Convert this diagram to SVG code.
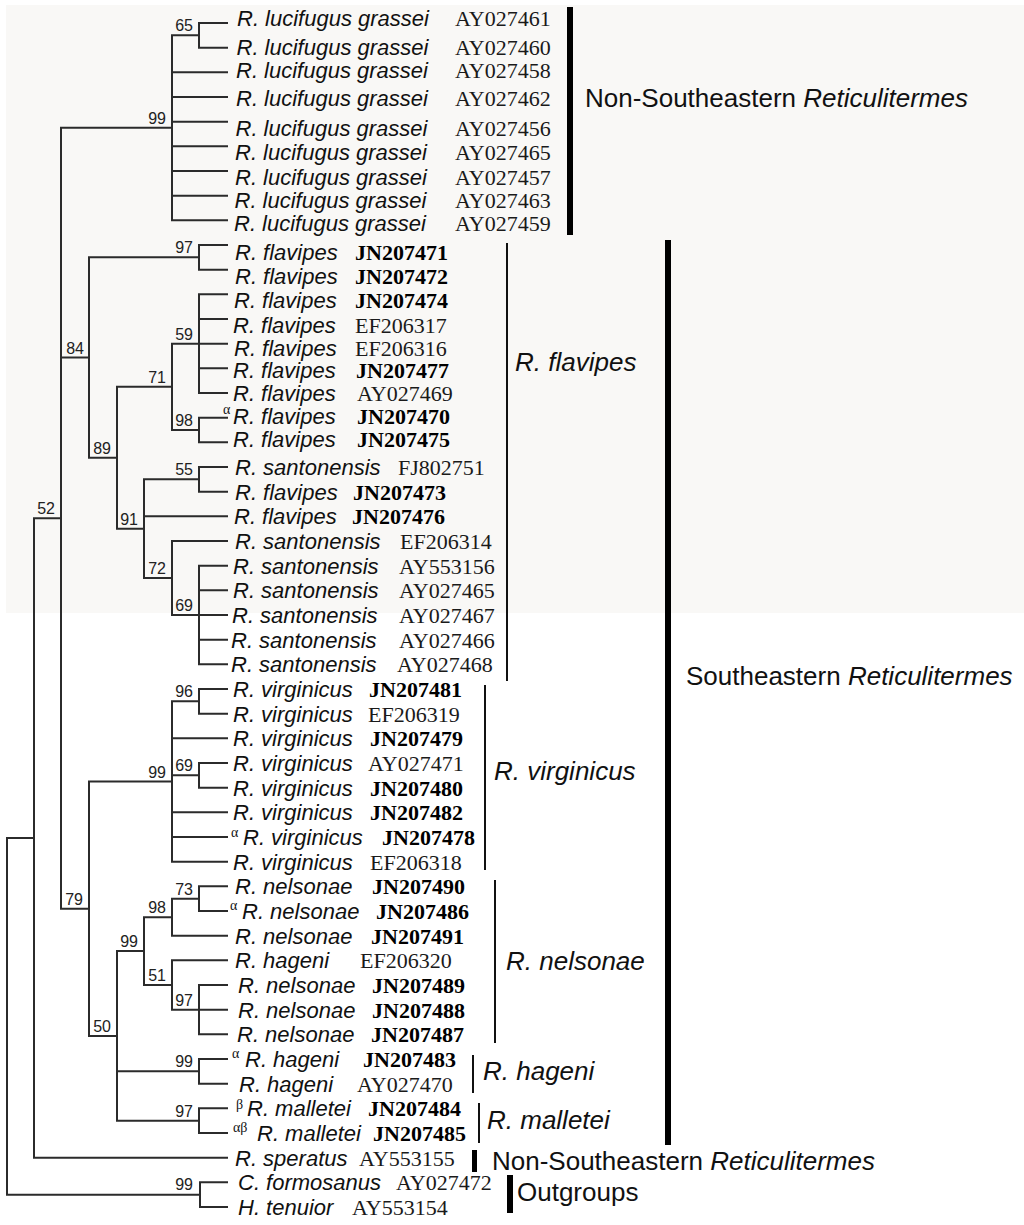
<svg xmlns="http://www.w3.org/2000/svg" width="1024" height="1225" viewBox="0 0 1024 1225">
<style>
.br{stroke:#2b2b2b;stroke-width:2;fill:none;stroke-linecap:square}
.thin{stroke:#111;stroke-width:2;fill:none}
.bar{fill:#000}
.nm{font-family:"Liberation Sans",Arial,sans-serif;font-style:italic;font-size:22px;fill:#111}
.acc{font-family:"Liberation Serif","Times New Roman",serif;font-size:22px;fill:#1a1a1a}
.b{font-weight:bold;fill:#000}
.sup{font-family:"Liberation Serif","Times New Roman",serif;font-size:14px;fill:#111}
.bs{font-family:"Liberation Sans",Arial,sans-serif;font-size:16px;text-anchor:end;fill:#222}
.grp{font-family:"Liberation Sans",Arial,sans-serif;font-size:26px;fill:#111}
.it{font-style:italic}
</style>
<rect x="0" y="0" width="1024" height="1225" fill="#ffffff"/>
<rect x="6" y="5" width="1018" height="608" fill="#f9f8f6"/>

<g id="connectors">
<path class="br" d="M7,837.96V1194.67M7,837.96H34M7,1194.67H200
M200,1182.33V1207M200,1182.33H227M200,1207H227
M34,518.26V1157.67M34,518.26H61M34,1157.67H227
M61,127.83V908.69M61,127.83H172M61,357.54H89M61,908.69H89
M172,35.33V220.33M172,35.33H199M172,72.33H227M172,97H227M172,121.67H227M172,146.33H227M172,171H227M172,195.67H227M172,220.33H227
M199,23V47.67M199,23H227M199,47.67H227
M89,257.33V457.75M89,257.33H199M89,457.75H117
M199,245V269.67M199,245H227M199,269.67H227
M117,386.83V528.67M117,386.83H172M117,528.67H144
M172,343.67V430M172,343.67H199M172,430H199
M199,294.33V393M199,294.33H227M199,319H227M199,343.67H227M199,368.33H227M199,393H227
M199,417.67V442.33M199,417.67H227M199,442.33H227
M144,479.33V578M144,479.33H199M144,516.33H227M144,578H172
M199,467V491.67M199,467H227M199,491.67H227
M172,541V615M172,541H227M172,615H199
M199,565.67V664.33M199,565.67H227M199,590.33H227M199,615H227M199,639.67H227M199,664.33H227
M89,781.5V1035.88M89,781.5H172M89,1035.88H117
M172,701.33V861.67M172,701.33H199M172,738.33H227M172,775.33H199M172,812.33H227M172,837H227M172,861.67H227
M199,689V713.67M199,689H227M199,713.67H227
M199,763V787.67M199,763H227M199,787.67H227
M117,951.08V1120.67M117,951.08H144M117,1071.33H199M117,1120.67H199
M144,917.17V985M144,917.17H172M144,985H172
M172,898.67V935.67M172,898.67H199M172,935.67H227
M199,886.33V911M199,886.33H227M199,911H227
M172,960.33V1009.67M172,960.33H227M172,1009.67H199
M199,985V1034.33M199,985H227M199,1009.67H227M199,1034.33H227
M199,1059V1083.67M199,1059H227M199,1083.67H227
M199,1108.33V1133M199,1108.33H227M199,1133H227"/>
</g>

<g id="bootstrap">
<text class="bs" x="193" y="31.3">65</text>
<text class="bs" x="166" y="123.8">99</text>
<text class="bs" x="55" y="514.3">52</text>
<text class="bs" x="84" y="353.5">84</text>
<text class="bs" x="193" y="253.3">97</text>
<text class="bs" x="111" y="453.7">89</text>
<text class="bs" x="166" y="382.8">71</text>
<text class="bs" x="193" y="339.7">59</text>
<text class="bs" x="193" y="426">98</text>
<text class="bs" x="138" y="524.7">91</text>
<text class="bs" x="193" y="475.3">55</text>
<text class="bs" x="166" y="574">72</text>
<text class="bs" x="193" y="611">69</text>
<text class="bs" x="83" y="904.7">79</text>
<text class="bs" x="166" y="777.5">99</text>
<text class="bs" x="193" y="697.3">96</text>
<text class="bs" x="193" y="771.3">69</text>
<text class="bs" x="111" y="1031.9">50</text>
<text class="bs" x="138" y="947.1">99</text>
<text class="bs" x="166" y="913.2">98</text>
<text class="bs" x="193" y="894.7">73</text>
<text class="bs" x="166" y="981">51</text>
<text class="bs" x="193" y="1005.7">97</text>
<text class="bs" x="193" y="1067.3">99</text>
<text class="bs" x="193" y="1116.7">97</text>
<text class="bs" x="193" y="1190">99</text>
</g>

<g id="leaf-01"><text class="nm" x="237" y="26">R. lucifugus grassei</text><text class="acc" x="455" y="26">AY027461</text></g>
<g id="leaf-02"><text class="nm" x="236.5" y="54.7">R. lucifugus grassei</text><text class="acc" x="455" y="54.7">AY027460</text></g>
<g id="leaf-03"><text class="nm" x="236" y="78.3">R. lucifugus grassei</text><text class="acc" x="455" y="78.3">AY027458</text></g>
<g id="leaf-04"><text class="nm" x="236" y="106">R. lucifugus grassei</text><text class="acc" x="455" y="106">AY027462</text></g>
<g id="leaf-05"><text class="nm" x="235.5" y="135.7">R. lucifugus grassei</text><text class="acc" x="455" y="135.7">AY027456</text></g>
<g id="leaf-06"><text class="nm" x="235" y="160.3">R. lucifugus grassei</text><text class="acc" x="455" y="160.3">AY027465</text></g>
<g id="leaf-07"><text class="nm" x="235" y="185">R. lucifugus grassei</text><text class="acc" x="455" y="185">AY027457</text></g>
<g id="leaf-08"><text class="nm" x="234.5" y="207.7">R. lucifugus grassei</text><text class="acc" x="455" y="207.7">AY027463</text></g>
<g id="leaf-09"><text class="nm" x="234" y="231.3">R. lucifugus grassei</text><text class="acc" x="455" y="231.3">AY027459</text></g>

<g id="leaf-10"><text class="nm" x="235" y="260">R. flavipes</text><text class="acc b" x="355" y="260">JN207471</text></g>
<g id="leaf-11"><text class="nm" x="235" y="283.7">R. flavipes</text><text class="acc b" x="355" y="283.7">JN207472</text></g>
<g id="leaf-12"><text class="nm" x="234" y="308.3">R. flavipes</text><text class="acc b" x="355" y="308.3">JN207474</text></g>
<g id="leaf-13"><text class="nm" x="233" y="333">R. flavipes</text><text class="acc" x="355" y="333">EF206317</text></g>
<g id="leaf-14"><text class="nm" x="234" y="355.7">R. flavipes</text><text class="acc" x="355" y="355.7">EF206316</text></g>
<g id="leaf-15"><text class="nm" x="233" y="378.3">R. flavipes</text><text class="acc b" x="356" y="378.3">JN207477</text></g>
<g id="leaf-16"><text class="nm" x="233" y="401">R. flavipes</text><text class="acc" x="357" y="401">AY027469</text></g>
<g id="leaf-17"><text class="sup" x="223" y="413.7">α</text><text class="nm" x="233" y="423.7">R. flavipes</text><text class="acc b" x="357" y="423.7">JN207470</text></g>
<g id="leaf-18"><text class="nm" x="233" y="447.3">R. flavipes</text><text class="acc b" x="357" y="447.3">JN207475</text></g>
<g id="leaf-19"><text class="nm" x="235" y="475">R. santonensis</text><text class="acc" x="398" y="475">FJ802751</text></g>
<g id="leaf-20"><text class="nm" x="235" y="499.7">R. flavipes</text><text class="acc b" x="353" y="499.7">JN207473</text></g>
<g id="leaf-21"><text class="nm" x="234" y="524.3">R. flavipes</text><text class="acc b" x="352" y="524.3">JN207476</text></g>
<g id="leaf-22"><text class="nm" x="235" y="549">R. santonensis</text><text class="acc" x="400" y="549">EF206314</text></g>
<g id="leaf-23"><text class="nm" x="233" y="573.7">R. santonensis</text><text class="acc" x="399" y="573.7">AY553156</text></g>
<g id="leaf-24"><text class="nm" x="233" y="598.3">R. santonensis</text><text class="acc" x="399" y="598.3">AY027465</text></g>
<g id="leaf-25"><text class="nm" x="232" y="623">R. santonensis</text><text class="acc" x="399" y="623">AY027467</text></g>
<g id="leaf-26"><text class="nm" x="231" y="647.7">R. santonensis</text><text class="acc" x="399" y="647.7">AY027466</text></g>
<g id="leaf-27"><text class="nm" x="231" y="672.3">R. santonensis</text><text class="acc" x="397" y="672.3">AY027468</text></g>

<g id="leaf-28"><text class="nm" x="233" y="697">R. virginicus</text><text class="acc b" x="369" y="697">JN207481</text></g>
<g id="leaf-29"><text class="nm" x="233" y="721.7">R. virginicus</text><text class="acc" x="368" y="721.7">EF206319</text></g>
<g id="leaf-30"><text class="nm" x="233" y="746.3">R. virginicus</text><text class="acc b" x="370" y="746.3">JN207479</text></g>
<g id="leaf-31"><text class="nm" x="233" y="771">R. virginicus</text><text class="acc" x="368" y="771">AY027471</text></g>
<g id="leaf-32"><text class="nm" x="233" y="795.7">R. virginicus</text><text class="acc b" x="370" y="795.7">JN207480</text></g>
<g id="leaf-33"><text class="nm" x="233" y="820.3">R. virginicus</text><text class="acc b" x="370" y="820.3">JN207482</text></g>
<g id="leaf-34"><text class="sup" x="231" y="837">α</text><text class="nm" x="243" y="845">R. virginicus</text><text class="acc b" x="382" y="845">JN207478</text></g>
<g id="leaf-35"><text class="nm" x="233" y="869.7">R. virginicus</text><text class="acc" x="370" y="869.7">EF206318</text></g>

<g id="leaf-36"><text class="nm" x="235" y="894.3">R. nelsonae</text><text class="acc b" x="372" y="894.3">JN207490</text></g>
<g id="leaf-37"><text class="sup" x="230" y="910">α</text><text class="nm" x="242" y="919">R. nelsonae</text><text class="acc b" x="376" y="919">JN207486</text></g>
<g id="leaf-38"><text class="nm" x="235" y="943.7">R. nelsonae</text><text class="acc b" x="371" y="943.7">JN207491</text></g>
<g id="leaf-39"><text class="nm" x="235" y="968.3">R. hageni</text><text class="acc" x="360" y="968.3">EF206320</text></g>
<g id="leaf-40"><text class="nm" x="238" y="993">R. nelsonae</text><text class="acc b" x="372" y="993">JN207489</text></g>
<g id="leaf-41"><text class="nm" x="238" y="1017.7">R. nelsonae</text><text class="acc b" x="372" y="1017.7">JN207488</text></g>
<g id="leaf-42"><text class="nm" x="237" y="1042.3">R. nelsonae</text><text class="acc b" x="371" y="1042.3">JN207487</text></g>
<g id="leaf-43"><text class="sup" x="232" y="1058">α</text><text class="nm" x="245" y="1067">R. hageni</text><text class="acc b" x="363" y="1067">JN207483</text></g>
<g id="leaf-44"><text class="nm" x="239" y="1091.7">R. hageni</text><text class="acc" x="357" y="1091.7">AY027470</text></g>
<g id="leaf-45"><text class="sup" x="236" y="1108.5">β</text><text class="nm" x="247" y="1116.3">R. malletei</text><text class="acc b" x="368" y="1116.3">JN207484</text></g>
<g id="leaf-46"><text class="sup" x="233" y="1132">αβ</text><text class="nm" x="257" y="1141">R. malletei</text><text class="acc b" x="373" y="1141">JN207485</text></g>
<g id="leaf-47"><text class="nm" x="235" y="1165.7">R. speratus</text><text class="acc" x="359" y="1165.7">AY553155</text></g>
<g id="leaf-48"><text class="nm" x="238" y="1190.3">C. formosanus</text><text class="acc" x="396" y="1190.3">AY027472</text></g>
<g id="leaf-49"><text class="nm" x="238" y="1215">H. tenuior</text><text class="acc" x="352" y="1215">AY553154</text></g>

<g id="group-nonse-top">
<rect class="bar" x="567" y="7" width="6" height="228"/>
<text class="grp" x="585" y="106.5">Non-Southeastern <tspan class="it">Reticulitermes</tspan></text>
</g>
<g id="group-se">
<rect class="bar" x="665" y="240" width="6" height="905"/>
<text class="grp" x="686" y="685">Southeastern <tspan class="it">Reticulitermes</tspan></text>
</g>
<g id="group-flavipes">
<line class="thin" x1="507" y1="243" x2="507" y2="681"/>
<text class="grp it" x="515" y="371">R. flavipes</text>
</g>
<g id="group-virginicus">
<line class="thin" x1="485" y1="685" x2="485" y2="870"/>
<text class="grp it" x="494" y="780">R. virginicus</text>
</g>
<g id="group-nelsonae">
<line class="thin" x1="495" y1="880" x2="495" y2="1043"/>
<text class="grp it" x="506" y="970">R. nelsonae</text>
</g>
<g id="group-hageni">
<line class="thin" x1="473" y1="1055" x2="473" y2="1093"/>
<text class="grp it" x="483" y="1080">R. hageni</text>
</g>
<g id="group-malletei">
<line class="thin" x1="479" y1="1103" x2="479" y2="1143"/>
<text class="grp it" x="487" y="1129">R. malletei</text>
</g>
<g id="group-nonse-bottom">
<rect class="bar" x="472" y="1150" width="5" height="22"/>
<text class="grp" x="492" y="1170">Non-Southeastern <tspan class="it">Reticulitermes</tspan></text>
</g>
<g id="group-outgroups">
<rect class="bar" x="507" y="1175" width="6" height="38"/>
<text class="grp" x="517" y="1201">Outgroups</text>
</g>
</svg>
